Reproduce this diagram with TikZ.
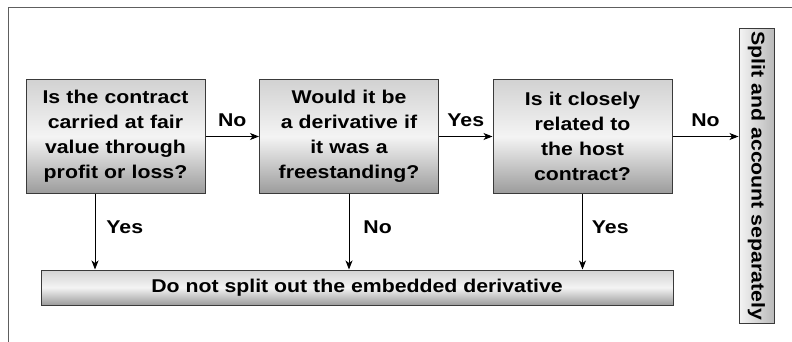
\documentclass[tikz,border=0pt]{standalone}
\usepackage{fontspec}
\setmainfont{Liberation Sans}[FakeStretch=1.15]
\usepackage{tikz}
\usetikzlibrary{arrows.meta,positioning}
\definecolor{edge}{HTML}{3A3A3A}
\definecolor{frame}{HTML}{5E5E5E}
\definecolor{shadetop}{HTML}{D2D2D2}
\definecolor{shadelight}{HTML}{F4F4F4}
\definecolor{shadedark}{HTML}{9C9C9C}
\tikzset{
    flow/.style={
        -{Stealth[length=9pt,width=7pt,inset=2.5pt]},
        line width=0.9pt,
        color=black
    },
    boxtext/.style={
        font=\fontsize{18.5}{25}\selectfont\bfseries,
        text=black
    },
    question/.style={
        boxtext,
        draw=edge,
        line width=1pt,
        minimum width=179pt,
        minimum height=113pt,
        text width=172pt,
        align=center,
        inner sep=0pt,
        top color=shadetop,
        bottom color=shadedark,
        middle color=shadelight
    },
    outcome/.style={
        boxtext,
        draw=edge,
        line width=1pt,
        minimum height=35pt,
        inner sep=0pt,
        top color=shadetop,
        bottom color=shadedark,
        middle color=shadelight
    },
    answer/.style={
        boxtext,
        inner sep=2pt
    }
}

\begin{document}
\begin{tikzpicture}[x=1pt,y=-1pt]

    \useasboundingbox (0,0) rectangle (792,342);

    % Frame
    \draw[frame,line width=1pt]
        (8,342) -- (8,8) -- (792,8);

    % Questions
    \node[question]
        (q1) at (115.5,136.5)
        {Is the contract\\carried at fair\\value through\\profit or loss?};

    \node[question]
        (q2) at (349,136.5)
        {Would it be\\a derivative if\\it was a\\freestanding?};

    \node[question]
        (q3) at (582.5,136.5)
        {Is it closely\\related to\\the host\\contract?};

    % Outcomes
    \node[
        outcome,
        minimum width=632pt
    ]
        (keep) at (357,287.5)
        {Do not split out the embedded derivative};

    \node[
        outcome,
        minimum width=294pt,
        rotate=-90,
        left color=shadelight,
        right color=shadedark!70
    ]
        (split) at (756.5,176)
        {Split and account separately};

    % Horizontal flow
    \draw[flow]
        (q1.east) -- (q2.west)
        node[answer,midway,above=7pt] {No};

    \draw[flow]
        (q2.east) -- (q3.west)
        node[answer,midway,above=7pt] {Yes};

    \draw[flow]
        (q3.east) -- (q3.east -| split.south)
        node[answer,midway,above=7pt] {No};

    % Down to the outcome
    \coordinate (foot1) at ([xshift=-20.5pt]q1.south);

    \draw[flow]
        (foot1) -- (foot1 |- keep.north)
        node[answer,pos=0.45,right=9pt] {Yes};

    \draw[flow]
        (q2.south) -- (q2.south |- keep.north)
        node[answer,pos=0.45,right=12pt] {No};

    \draw[flow]
        (q3.south) -- (q3.south |- keep.north)
        node[answer,pos=0.45,right=7pt] {Yes};

\end{tikzpicture}
\end{document}
